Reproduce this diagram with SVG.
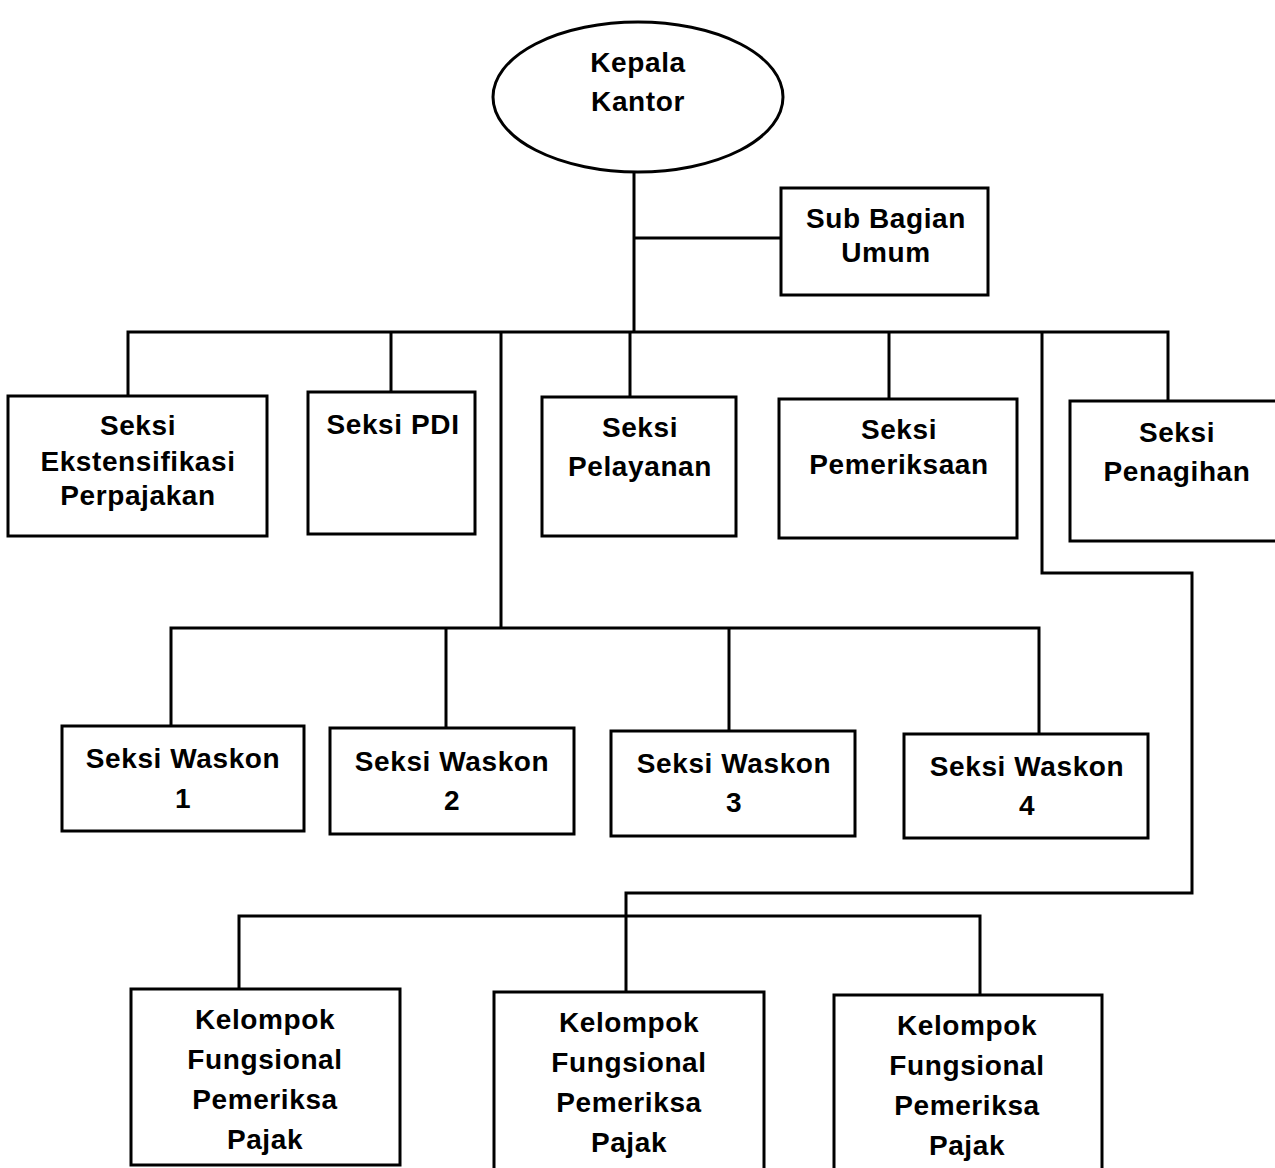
<svg xmlns="http://www.w3.org/2000/svg" width="1275" height="1168" viewBox="0 0 1275 1168">
<style>
.b{fill:#fff;stroke:#000;stroke-width:3}
.c{fill:none;stroke:#000;stroke-width:3}
text{font-family:"Liberation Sans",Arial,sans-serif;font-weight:bold;font-size:28px;letter-spacing:0.6px;text-anchor:middle;fill:#000}
</style>
<rect width="1275" height="1168" fill="#fff"/>
<g id="connectors">
<path class="c" d="M634 172V333"/>
<path class="c" d="M634 238H781"/>
<path class="c" d="M128 396V332H1168V401"/>
<path class="c" d="M391 332V392"/>
<path class="c" d="M630 332V397"/>
<path class="c" d="M889 332V399"/>
<path class="c" d="M501 332V628"/>
<path class="c" d="M171 726V628H1039V734"/>
<path class="c" d="M446 628V728"/>
<path class="c" d="M729 628V731"/>
<path class="c" d="M1042 332V573H1192V893H626V992"/>
<path class="c" d="M239 989V916H980V995"/>
</g>
<g id="kepala"><ellipse class="b" cx="638" cy="97" rx="145" ry="75"/><text x="638" y="72">Kepala</text><text x="638" y="111">Kantor</text></g>
<g id="subbagian"><rect class="b" x="781" y="188" width="207" height="107"/><text x="886" y="228">Sub Bagian</text><text x="886" y="262">Umum</text></g>
<g id="ekstensifikasi"><rect class="b" x="8" y="396" width="259" height="140"/><text x="138" y="435">Seksi</text><text x="138" y="471">Ekstensifikasi</text><text x="138" y="505">Perpajakan</text></g>
<g id="pdi"><rect class="b" x="308" y="392" width="167" height="142"/><text x="393" y="434">Seksi PDI</text></g>
<g id="pelayanan"><rect class="b" x="542" y="397" width="194" height="139"/><text x="640" y="437">Seksi</text><text x="640" y="476">Pelayanan</text></g>
<g id="pemeriksaan"><rect class="b" x="779" y="399" width="238" height="139"/><text x="899" y="439">Seksi</text><text x="899" y="474">Pemeriksaan</text></g>
<g id="penagihan"><rect class="b" x="1070" y="401" width="210" height="140"/><text x="1177" y="442">Seksi</text><text x="1177" y="481">Penagihan</text></g>
<g id="waskon1"><rect class="b" x="62" y="726" width="242" height="105"/><text x="183" y="768">Seksi Waskon</text><text x="183" y="808">1</text></g>
<g id="waskon2"><rect class="b" x="330" y="728" width="244" height="106"/><text x="452" y="771">Seksi Waskon</text><text x="452" y="810">2</text></g>
<g id="waskon3"><rect class="b" x="611" y="731" width="244" height="105"/><text x="734" y="773">Seksi Waskon</text><text x="734" y="812">3</text></g>
<g id="waskon4"><rect class="b" x="904" y="734" width="244" height="104"/><text x="1027" y="776">Seksi Waskon</text><text x="1027" y="815">4</text></g>
<g id="kelompok1"><rect class="b" x="131" y="989" width="269" height="176"/><text x="265" y="1029">Kelompok</text><text x="265" y="1069">Fungsional</text><text x="265" y="1109">Pemeriksa</text><text x="265" y="1149">Pajak</text></g>
<g id="kelompok2"><rect class="b" x="494" y="992" width="270" height="180"/><text x="629" y="1032">Kelompok</text><text x="629" y="1072">Fungsional</text><text x="629" y="1112">Pemeriksa</text><text x="629" y="1152">Pajak</text></g>
<g id="kelompok3"><rect class="b" x="834" y="995" width="268" height="180"/><text x="967" y="1035">Kelompok</text><text x="967" y="1075">Fungsional</text><text x="967" y="1115">Pemeriksa</text><text x="967" y="1155">Pajak</text></g>
</svg>
